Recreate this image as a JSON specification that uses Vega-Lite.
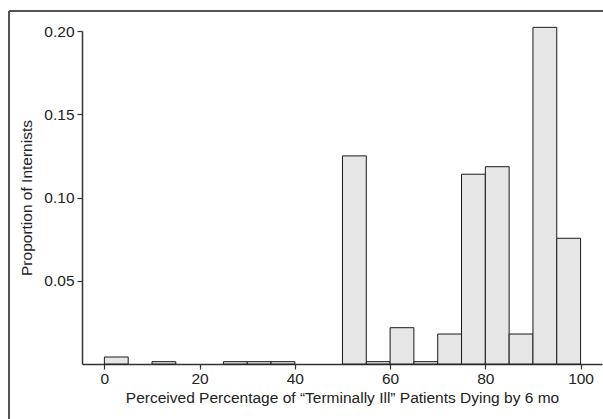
{
  "$schema": "https://vega.github.io/schema/vega-lite/v6.json",
  "autosize": {"type": "none"},
  "padding": {"left": 82, "top": 31, "right": 1, "bottom": 55},
  "width": 520,
  "height": 333,
  "background": "white",
  "config": {
    "view": {"stroke": null},
    "font": "Liberation Sans",
    "axis": {
      "grid": false,
      "domainColor": "#333333",
      "domainWidth": 1.5,
      "tickColor": "#333333",
      "tickWidth": 1.2,
      "tickSize": 5,
      "labelFont": "Liberation Sans",
      "titleFont": "Liberation Sans",
      "labelFontSize": 15.5,
      "titleFontSize": 15.5,
      "titleFontWeight": "normal",
      "labelColor": "#222222",
      "titleColor": "#222222"
    }
  },
  "data": {
    "values": [
      {"start": 0, "end": 5, "p": 0.0042},
      {"start": 10, "end": 15, "p": 0.0014},
      {"start": 25, "end": 30, "p": 0.0014},
      {"start": 30, "end": 35, "p": 0.0014},
      {"start": 35, "end": 40, "p": 0.0014},
      {"start": 50, "end": 55, "p": 0.125},
      {"start": 55, "end": 60, "p": 0.0014},
      {"start": 60, "end": 65, "p": 0.0218},
      {"start": 65, "end": 70, "p": 0.0014},
      {"start": 70, "end": 75, "p": 0.018},
      {"start": 75, "end": 80, "p": 0.114},
      {"start": 80, "end": 85, "p": 0.1185},
      {"start": 85, "end": 90, "p": 0.018},
      {"start": 90, "end": 95, "p": 0.2022},
      {"start": 95, "end": 100, "p": 0.0755}
    ]
  },
  "layer": [
    {
      "mark": {"type": "rect", "fill": "#e6e6e6", "stroke": "#1a1a1a", "strokeWidth": 1, "clip": false},
      "encoding": {
        "x": {
          "field": "start", "type": "quantitative",
          "scale": {"domain": [-4.7, 104.5], "nice": false, "zero": false},
          "axis": {"values": [0, 20, 40, 60, 80, 100], "title": "Perceived Percentage of \u201cTerminally Ill\u201d Patients Dying by 6 mo", "labelPadding": 2, "titlePadding": 4}
        },
        "x2": {"field": "end"},
        "y": {
          "field": "p", "type": "quantitative",
          "scale": {"domain": [0, 0.2], "nice": false},
          "axis": {"values": [0.05, 0.1, 0.15, 0.2], "format": ".2f", "title": "Proportion of Internists", "labelPadding": 3, "titlePadding": 9}
        },
        "y2": {"datum": 0}
      }
    },
    {
      "mark": {"type": "rule", "stroke": "#555555", "strokeWidth": 1.5, "clip": false},
      "encoding": {
        "x": {"datum": -20, "type": "quantitative"},
        "y": {"datum": 0.2118, "type": "quantitative"},
        "y2": {"datum": -0.033}
      }
    },
    {
      "mark": {"type": "rule", "stroke": "#555555", "strokeWidth": 1.5, "clip": false},
      "encoding": {
        "x": {"datum": -20, "type": "quantitative"},
        "x2": {"datum": 105},
        "y": {"datum": 0.2118, "type": "quantitative"}
      }
    }
  ]
}
